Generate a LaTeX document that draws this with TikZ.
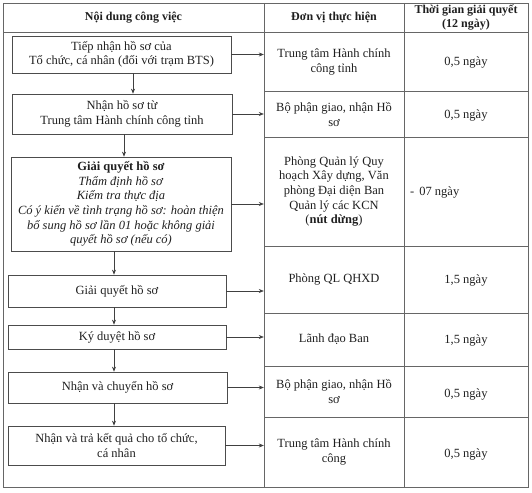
\documentclass[tikz,border=0pt]{standalone}
\usepackage{fontspec}
\setmainfont{Liberation Serif}
\usetikzlibrary{arrows.meta,calc}
\begin{document}
\begin{tikzpicture}[x=1pt,y=-1pt,
  every node/.style={font=\fontsize{12.5}{14.6}\selectfont, text=black!88},
  grid/.style={draw=black!60, line width=0.8pt},
  stepbox/.style={draw=black!70, line width=0.7pt, rectangle, align=center, inner sep=1pt},
  cell/.style={rectangle, align=center, inner sep=0pt, minimum width=140},
  tcell/.style={rectangle, align=center, inner sep=0pt, minimum width=124},
  head/.style={font=\bfseries\fontsize{12}{14.5}\selectfont, align=center},
  arr/.style={draw=black!75, line width=0.6pt, -{Stealth[length=5pt,width=4pt]}}]
\useasboundingbox (0,0) rectangle (532,492);
% table grid
\draw[grid] (3,3) rectangle (528,487);
\draw[grid] (264,3) -- (264,487);
\draw[grid] (404,3) -- (404,487);
\draw[grid] (3,32) -- (528,32);
\foreach \yy in {91,137,246,313,366,417} \draw[grid] (264,\yy) -- (528,\yy);
% header
\node[head] (h1) at (133.5,17.5) {Nội dung công việc};
\node[head] (h2) at (334,17.5) {Đơn vị thực hiện};
\node[head] (h3) at (466,17.5) {Thời gian giải quyết\\(12 ngày)};
% boxes
\node[stepbox, minimum width=219, minimum height=37] (b1) at (121.5,54.5) {Tiếp nhận hồ sơ của\\Tổ chức, cá nhân (đối với trạm BTS)};
\node[stepbox, minimum width=220, minimum height=40] (b2) at (122,114) {Nhận hồ sơ từ\\Trung tâm Hành chính công tỉnh};
\node[stepbox, minimum width=220, minimum height=94] (b3) at (121,204) {\textbf{Giải quyết hồ sơ}\\\textit{Thẩm định hồ sơ}\\\textit{Kiểm tra thực địa}\\\textit{Có ý kiến về tình trạng hồ sơ: hoàn thiện}\\\textit{bổ sung hồ sơ lần 01 hoặc không giải}\\\textit{quyết hồ sơ (nếu có)}};
\node[stepbox, minimum width=218, minimum height=32] (b4) at (117,291) {Giải quyết hồ sơ};
\node[stepbox, minimum width=218, minimum height=24] (b5) at (117,337) {Ký duyệt hồ sơ};
\node[stepbox, minimum width=219, minimum height=31] (b6) at (117.5,387.5) {Nhận và chuyển hồ sơ};
\node[stepbox, minimum width=217, minimum height=39] (b7) at (116.5,445.5) {Nhận và trả kết quả cho tổ chức,\\cá nhân};
% unit cells
\node[cell, minimum height=59] (c1) at (334,62) {Trung tâm Hành chính\\công tỉnh};
\node[cell, minimum height=46] (c2) at (334,114.5) {Bộ phận giao, nhận Hồ\\sơ};
\node[cell, minimum height=109] (c3) at (334,191.5) {Phòng Quản lý Quy\\hoạch Xây dựng, Văn\\phòng Đại diện Ban\\Quản lý các KCN\\(\textbf{nút dừng})};
\node[cell, minimum height=67] (c4) at (334,279.5) {Phòng QL QHXD};
\node[cell, minimum height=53] (c5) at (334,339.5) {Lãnh đạo Ban};
\node[cell, minimum height=51] (c6) at (334,391.5) {Bộ phận giao, nhận Hồ\\sơ};
\node[cell, minimum height=70] (c7) at (334,452) {Trung tâm Hành chính\\công};
% time cells
\node[tcell] (t1) at (466,63) {0,5 ngày};
\node[tcell] (t2) at (466,116) {0,5 ngày};
\node[anchor=west, inner sep=0pt] (t3) at (410,193) {-\hspace{0.4em}07 ngày};
\node[tcell] (t4) at (466,281) {1,5 ngày};
\node[tcell] (t5) at (466,340) {1,5 ngày};
\node[tcell] (t6) at (466,394) {0,5 ngày};
\node[tcell] (t7) at (466,454) {0,5 ngày};
% vertical arrows
\draw[arr] ([xshift=11.5]b1.south) -- ([xshift=11.5]b1.south |- b2.north);
\draw[arr] ([xshift=2]b2.south) -- ([xshift=2]b2.south |- b3.north);
\draw[arr] ([xshift=-7]b3.south) -- ([xshift=-7]b3.south |- b4.north);
\draw[arr] ([xshift=-3]b4.south) -- ([xshift=-3]b4.south |- b5.north);
\draw[arr] ([xshift=-3]b5.south) -- ([xshift=-3]b5.south |- b6.north);
\draw[arr] ([xshift=-3.5]b6.south) -- ([xshift=-3.5]b6.south |- b7.north);
% horizontal arrows
\foreach \i in {1,...,7} \draw[arr] (b\i.east) -- (b\i.east -| c\i.west);
\end{tikzpicture}
\end{document}
